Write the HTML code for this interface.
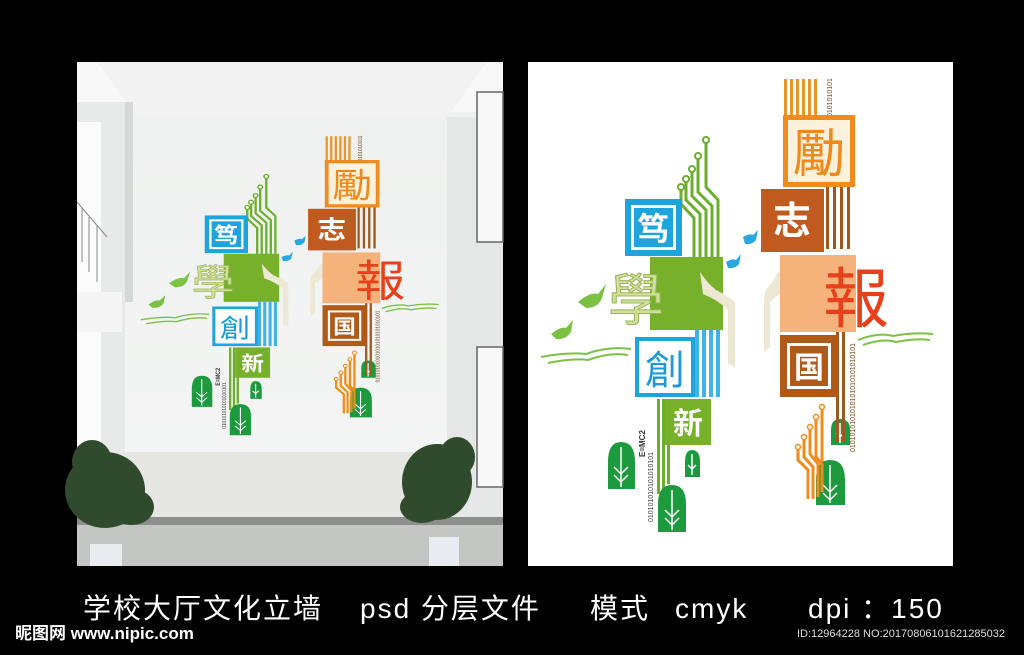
<!DOCTYPE html>
<html><head><meta charset="utf-8"><style>
html,body{margin:0;padding:0;background:#000;}
body{width:1024px;height:655px;position:relative;overflow:hidden;font-family:"Liberation Sans","Noto Sans CJK SC",sans-serif;}
.t{position:absolute;color:#fff;font-size:28px;line-height:32px;top:593px;white-space:nowrap;letter-spacing:2px}
</style></head><body>
<svg width="1024" height="655" style="position:absolute;left:0;top:0" font-family="Liberation Sans, Noto Sans CJK SC, sans-serif">
<defs>
<linearGradient id="wall" x1="0" y1="0" x2="0" y2="1"><stop offset="0" stop-color="#eef0ef"/><stop offset="1" stop-color="#f5f6f5"/></linearGradient>
</defs>
<!-- LEFT PHOTO -->
<g transform="translate(77,62)">
<rect width="426" height="504" fill="url(#wall)"/>
<rect x="0" y="0" width="426" height="50" fill="#f7f8f7"/>
<polygon points="20,0 60,55 370,55 410,0" fill="#f1f2f1"/>
<rect x="0" y="40" width="48" height="464" fill="#e8eae9"/>
<rect x="0" y="60" width="24" height="380" fill="#fafbfa"/>
<rect x="48" y="40" width="8" height="200" fill="#d5d8d6"/>
<g stroke="#888" stroke-width="1"><line x1="0" y1="140" x2="30" y2="175"/><line x1="5" y1="146" x2="5" y2="200"/><line x1="12" y1="155" x2="12" y2="210"/><line x1="20" y1="164" x2="20" y2="220"/></g>
<rect x="0" y="230" width="45" height="40" fill="#f4f5f4"/>
<rect x="370" y="55" width="56" height="449" fill="#e6e8e7"/>
<rect x="400" y="30" width="26" height="150" fill="#f7f8f7" stroke="#666" stroke-width="1.5"/>
<rect x="400" y="285" width="26" height="140" fill="#f7f8f7" stroke="#666" stroke-width="1.5"/>
<rect x="48" y="390" width="322" height="68" fill="#e6e7e3"/>
<rect x="0" y="455" width="426" height="8" fill="#8d8f8c"/>
<rect x="0" y="463" width="426" height="41" fill="#c4c6c4"/>
<g fill="#2f4a2c"><ellipse cx="28" cy="428" rx="40" ry="38"/><ellipse cx="15" cy="400" rx="20" ry="22"/><ellipse cx="55" cy="445" rx="22" ry="18"/>
<ellipse cx="360" cy="420" rx="35" ry="38"/><ellipse cx="380" cy="395" rx="18" ry="20"/><ellipse cx="345" cy="445" rx="22" ry="16"/></g>
<rect x="13" y="482" width="32" height="22" fill="#e8ecf0"/><rect x="352" y="475" width="30" height="29" fill="#e8ecf0"/>
<g transform="translate(54,63) scale(0.76,0.66)">
<use href="#design"/>
</g>
</g>
<!-- RIGHT PANEL -->
<g transform="translate(528,62)">
<rect width="425" height="504" fill="#fff"/>
<g id="design">
<g stroke="#6cae2e" stroke-width="3" fill="none">
<path d="M178 78 V125 L190 138 V195"/><path d="M170 94 V130 L184 144 V195"/><path d="M164 107 V134 L178 148 V195"/><path d="M158 117 V138 L172 152 V195"/><path d="M153 125 V142 L166 156 V195"/>
</g>
<g fill="#fff" stroke="#6cae2e" stroke-width="2"><circle cx="178" cy="78" r="3"/><circle cx="170" cy="94" r="3"/><circle cx="164" cy="107" r="3"/><circle cx="158" cy="117" r="3"/><circle cx="153" cy="125" r="3"/></g>
<rect x="97" y="137" width="57" height="57" fill="#1ea4dc"/>
<rect x="103" y="143" width="45" height="45" fill="#fff"/><rect x="106" y="146" width="39" height="39" fill="#1ea4dc"/>
<text x="125" y="178" font-size="32" font-weight="bold" fill="#fff" text-anchor="middle">笃</text>
<rect x="122" y="195" width="73" height="73" fill="#77b12b"/>
<text x="108" y="258" font-size="56" fill="#cfe09a" text-anchor="middle" stroke="#9bb55a" stroke-width="1">學</text>
<g fill="#3fb3e6"><rect x="167" y="268" width="4" height="67"/><rect x="174" y="268" width="4" height="67"/><rect x="181" y="268" width="4" height="67"/><rect x="188" y="268" width="4" height="67"/></g>
<rect x="107" y="275" width="60" height="60" fill="#1ea4dc"/>
<rect x="111" y="279" width="52" height="52" fill="#fff"/>
<text x="137" y="322" font-size="40" fill="#1a9ad6" text-anchor="middle">創</text>
<g fill="#6cae2e"><rect x="129" y="337" width="3" height="95"/><rect x="134" y="337" width="3" height="90"/><rect x="139" y="337" width="3" height="85"/></g>
<text transform="translate(125,460) rotate(-90)" font-size="7" fill="#444">010101010101010101</text>
<text transform="translate(117,395) rotate(-90)" font-size="8" font-weight="bold" fill="#333">E=MC2</text>
<rect x="137" y="337" width="46" height="46" fill="#77b12b"/>
<text x="160" y="372" font-size="30" font-weight="bold" fill="#fff" text-anchor="middle">新</text>
<g fill="#1e9a3e"><path d="M80 427 V400 Q80 380 93 380 Q107 380 107 400 V427 Z"/><path d="M157 415 V400 Q157 388 164 388 Q172 388 172 400 V415 Z"/><path d="M130 470 V442 Q130 423 144 423 Q158 423 158 442 V470 Z"/>
<path d="M288 443 V418 Q288 398 302 398 Q317 398 317 418 V443 Z"/><path d="M303 383 V368 Q303 357 312 357 Q322 357 322 368 V383 Z"/></g>
<g stroke="#fff" stroke-width="1.5" fill="none"><path d="M93 385 V425 M86 405 L93 412 L100 405 M86 413 L93 420 L100 413"/><path d="M144 428 V468 M137 448 L144 455 L151 448 M137 456 L144 463 L151 456"/><path d="M302 403 V441 M295 423 L302 430 L309 423 M295 431 L302 438 L309 431"/><path d="M164 392 V413 M160 403 L164 407 L168 403"/><path d="M312 361 V381 M308 371 L312 375 L316 371"/></g>
<g fill="#7cc242"><path d="M50 240 Q62 230 70 232 L78 222 L74 236 Q70 246 58 246 Z"/><path d="M23 272 Q33 264 38 266 L45 258 L43 270 Q38 278 28 277 Z"/></g>
<g fill="#29a8e0"><path d="M198 200 Q205 196 208 198 L213 192 L211 202 Q207 207 200 206 Z"/><path d="M215 175 Q222 171 225 173 L230 168 L228 178 Q224 183 217 182 Z"/></g>
<g stroke="#7cc242" stroke-width="2" fill="none"><path d="M13 295 Q40 290 58 292 Q80 284 103 287"/><path d="M20 301 Q45 296 60 298 Q82 290 100 293"/>
<path d="M330 278 Q350 270 365 274 Q385 270 405 272"/><path d="M335 283 Q355 276 368 280 Q388 276 402 278"/></g>
<path d="M172 210 Q180 222 188 228 Q200 234 207 240 V305 L200 302 V248 Q190 238 175 232 Z" fill="#ece8d4"/>
<path d="M250 210 Q245 220 240 225 Q236 230 236 240 V290 L242 285 V240 Q252 232 262 222 Z" fill="#ece8d4"/>
<g fill="#e8952a"><rect x="256" y="17" width="3" height="38"/><rect x="262" y="17" width="3" height="38"/><rect x="268" y="17" width="3" height="38"/><rect x="274" y="17" width="3" height="38"/><rect x="280" y="17" width="3" height="38"/><rect x="286" y="17" width="3" height="38"/></g>
<text transform="translate(304,55) rotate(-90)" font-size="7" fill="#7a4a1c">0101010101</text>
<rect x="255" y="53" width="72" height="72" fill="#f08c1e"/>
<rect x="260" y="58" width="62" height="62" fill="#fbf2de"/>
<text x="291" y="110" font-size="52" fill="#ef8a1a" text-anchor="middle">勵</text>
<g fill="#a0561c"><rect x="298" y="125" width="3" height="62"/><rect x="305" y="125" width="3" height="62"/><rect x="312" y="125" width="3" height="62"/><rect x="319" y="125" width="3" height="62"/></g>
<rect x="233" y="127" width="63" height="63" fill="#c05a1e"/>
<text x="264" y="172" font-size="38" font-weight="bold" fill="#fff" text-anchor="middle">志</text>
<rect x="252" y="193" width="76" height="77" fill="#f6b27b"/>
<text x="328" y="260" font-size="66" fill="#e8401a" text-anchor="middle">報</text>
<g fill="#9a5a22"><rect x="308" y="270" width="3" height="110"/><rect x="314" y="270" width="3" height="110"/></g>
<text transform="translate(327,390) rotate(-90)" font-size="7" fill="#7a4a1c">0101010101010101010101010101</text>
<rect x="252" y="273" width="58" height="62" fill="#b05a1a"/>
<rect x="259" y="281" width="44" height="46" fill="#fff"/><rect x="262" y="284" width="38" height="40" fill="#b05a1a"/>
<text x="281" y="316" font-size="30" font-weight="bold" fill="#fff" text-anchor="middle">国</text>
<g stroke="#f08c1e" stroke-width="3" fill="none"><path d="M294 345 V400"/><path d="M288 355 V395 L294 402 V430"/><path d="M282 365 V392 L290 402 V435"/><path d="M276 375 V395 L285 405 V437"/><path d="M270 385 V398 L280 408 V437"/></g>
<g fill="#fff" stroke="#f08c1e" stroke-width="1.5"><circle cx="294" cy="345" r="2.5"/><circle cx="288" cy="355" r="2.5"/><circle cx="282" cy="365" r="2.5"/><circle cx="276" cy="375" r="2.5"/><circle cx="270" cy="385" r="2.5"/></g>
</g>
</g>
</svg>
<div class="t" style="left:83px">学校大厅文化立墙</div>
<div class="t" style="left:360px">psd 分层文件</div>
<div class="t" style="left:590px">模式</div>
<div class="t" style="left:675px">cmyk</div>
<div class="t" style="left:808px">dpi ：150</div>
<div style="position:absolute;left:15px;top:623px;color:#fff;font-size:17px;line-height:22px;font-weight:bold;white-space:nowrap">昵图网 www.nipic.com</div>
<div style="position:absolute;left:797px;top:627px;color:#ddd;font-size:11px;line-height:14px;white-space:nowrap">ID:12964228 NO:20170806101621285032</div>
</body></html>
